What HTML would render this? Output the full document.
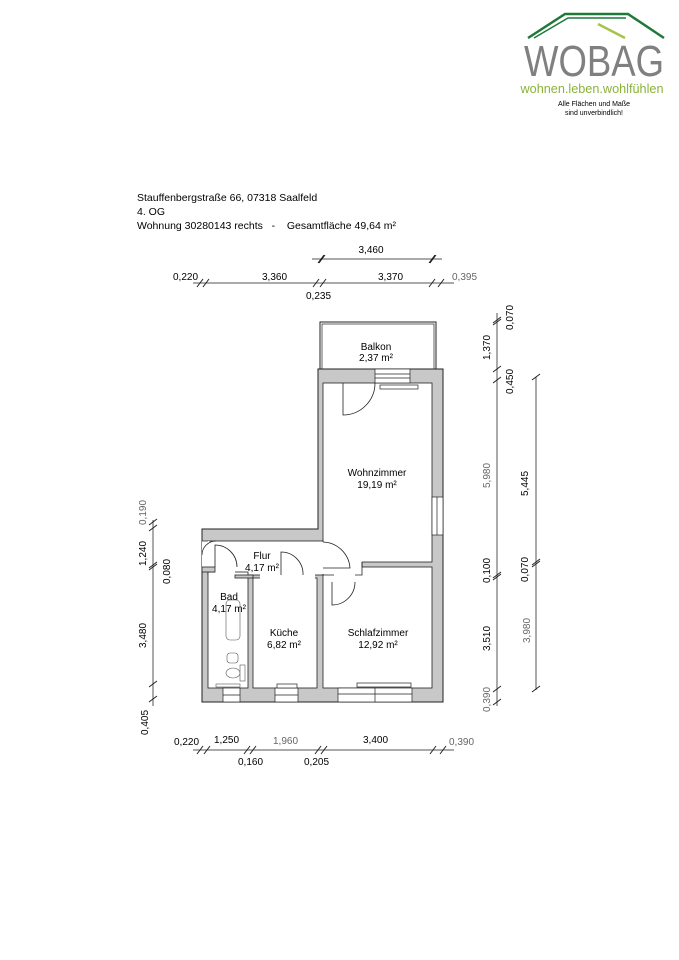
<!DOCTYPE html>
<html><head><meta charset="utf-8"><style>
html,body{margin:0;padding:0;background:#fff;}
svg{display:block;}
text{font-family:"Liberation Sans",sans-serif;white-space:pre;}
</style></head><body>
<svg width="679" height="960" viewBox="0 0 679 960" xmlns="http://www.w3.org/2000/svg">
<!-- Logo -->
<polyline points="528,38 565,14 628,14 664,38" fill="none" stroke="#1f7a3a" stroke-width="2.5"/>
<polyline points="534,38 568,18 626,18" fill="none" stroke="#1f7a3a" stroke-width="1.5"/>
<line x1="598" y1="24" x2="625" y2="38" stroke="#a6c44a" stroke-width="2.5"/>
<text x="594" y="76" font-size="44" fill="#808080" text-anchor="middle" textLength="140" lengthAdjust="spacingAndGlyphs">WOBAG</text>
<text x="592" y="93" font-size="13" fill="#8ab33a" text-anchor="middle" textLength="143" lengthAdjust="spacingAndGlyphs">wohnen.leben.wohlfühlen</text>
<text x="594" y="106" font-size="7" fill="#000" text-anchor="middle">Alle Flächen und Maße</text>
<text x="594" y="115" font-size="7" fill="#000" text-anchor="middle">sind unverbindlich!</text>

<!-- Header -->
<text x="137" y="201" font-size="10.5" fill="#000">Stauffenbergstraße 66, 07318 Saalfeld</text>
<text x="137" y="215" font-size="10.5" fill="#000">4. OG</text>
<text x="137" y="229" font-size="10.5" fill="#000">Wohnung 30280143 rechts&#160;&#160;&#160;-&#160;&#160;&#160;&#160;Gesamtfläche 49,64 m²</text>

<g stroke="#555" stroke-width="1" fill="none">
<line x1="312" y1="259" x2="442" y2="259"/>
<line x1="193" y1="283" x2="454" y2="283"/>
<line x1="153" y1="520" x2="153" y2="706"/>
<line x1="497" y1="313" x2="497" y2="706"/>
<line x1="536" y1="377" x2="536" y2="690"/>
<line x1="193" y1="750" x2="454" y2="750"/>
</g>
<g stroke="#222" stroke-width="1">
<path d="M318,263 L324,255 M319,263 L325,255 M429,263 L435,255 M430,263 L436,255"/>
<path d="M197,287 L203,279 M203,287 L209,279 M313,287 L319,279 M320,287 L326,279 M429,287 L435,279 M438,287 L444,279"/>
<path d="M149,525 L157,519 M149,531 L157,525 M149,568 L157,562 M149,570 L157,564 M149,687 L157,681 M149,702 L157,696"/>
<path d="M493,325 L501,319 M493,323 L501,317 M493,372 L501,366 M493,383 L501,377 M493,578 L501,572 M493,580 L501,574 M493,692 L501,686 M493,705 L501,699"/>
<path d="M532,380 L540,374 M532,565 L540,559 M532,567 L540,561 M532,692 L540,686"/>
<path d="M197,754 L203,746 M204,754 L210,746 M244,754 L250,746 M250,754 L256,746 M315,754 L321,746 M321,754 L327,746 M430,754 L436,746 M440,754 L446,746"/>
</g>
<g font-size="10" fill="#000">
<text x="371" y="253" text-anchor="middle">3,460</text>
<text x="173" y="280">0,220</text>
<text x="262" y="280">3,360</text>
<text x="378" y="280">3,370</text>
<text x="452" y="280" fill="#666">0,395</text>
<text x="306" y="299">0,235</text>
<text x="174" y="745">0,220</text>
<text x="214" y="743">1,250</text>
<text x="273" y="744" fill="#666">1,960</text>
<text x="363" y="743">3,400</text>
<text x="449" y="745" fill="#666">0,390</text>
<text x="238" y="765">0,160</text>
<text x="304" y="765">0,205</text>
<text transform="translate(146,525) rotate(-90)" fill="#666">0,190</text>
<text transform="translate(146,566) rotate(-90)">1,240</text>
<text transform="translate(170,584) rotate(-90)">0,080</text>
<text transform="translate(146,648) rotate(-90)">3,480</text>
<text transform="translate(148,735) rotate(-90)">0,405</text>
<text transform="translate(513,330) rotate(-90)">0,070</text>
<text transform="translate(490,360) rotate(-90)">1,370</text>
<text transform="translate(513,394) rotate(-90)">0,450</text>
<text transform="translate(490,488) rotate(-90)" fill="#666">5,980</text>
<text transform="translate(490,583) rotate(-90)">0,100</text>
<text transform="translate(490,651) rotate(-90)">3,510</text>
<text transform="translate(490,712) rotate(-90)" fill="#666">0,390</text>
<text transform="translate(528,496) rotate(-90)">5,445</text>
<text transform="translate(528,582) rotate(-90)">0,070</text>
<text transform="translate(530,643) rotate(-90)" fill="#666">3,980</text>
</g>

<!-- Balkon -->
<rect x="320" y="322" width="116" height="47" fill="#fff" stroke="#222" stroke-width="1"/>
<rect x="322" y="324" width="112" height="45" fill="none" stroke="#222" stroke-width="0.7"/>

<!-- Walls base -->
<path d="M318,369 L443,369 L443,702 L202,702 L202,529 L318,529 Z" fill="#c8c8c8" stroke="#222" stroke-width="1"/>
<g fill="#fff" stroke="#222" stroke-width="0.8">
<rect x="323" y="383" width="109" height="179"/>
<rect x="323" y="567" width="109" height="121"/>
<rect x="208" y="541" width="115" height="34"/>
<rect x="208" y="572" width="40" height="116"/>
<rect x="253" y="578" width="64" height="110"/>
</g>
<g fill="#fff" stroke="none">
<rect x="324" y="561" width="38" height="7"/>
<rect x="316" y="542" width="9" height="32"/>
<rect x="202" y="541" width="7" height="26"/>
<rect x="215" y="566" width="20" height="8"/>
<rect x="260" y="574" width="55" height="5"/>
<rect x="324" y="574" width="10" height="8"/>
<rect x="209" y="573" width="38" height="3"/>
</g>
<g fill="#c8c8c8" stroke="#222" stroke-width="0.8">
<rect x="202" y="567" width="13" height="5"/>
<rect x="235" y="575" width="18" height="3"/>
</g>
<path d="M362,562 L362,567 M202,541 L208,541 M323,575 L334,575" stroke="#222" stroke-width="0.8"/>
<path d="M362,562 L362,575 L355,575" fill="none" stroke="#222" stroke-width="0.8"/>

<!-- windows -->
<g fill="#fff" stroke="#222" stroke-width="0.7">
<rect x="375" y="369" width="35" height="14"/>
<line x1="375" y1="374" x2="410" y2="374"/><line x1="375" y1="378" x2="410" y2="378"/>
<rect x="432" y="497" width="11" height="38"/>
<line x1="437" y1="497" x2="437" y2="535"/>
<rect x="223" y="688" width="17" height="14"/><line x1="223" y1="695" x2="240" y2="695"/>
<rect x="275" y="688" width="23" height="14"/><line x1="275" y1="695" x2="298" y2="695"/>
<rect x="338" y="688" width="74" height="14"/><line x1="338" y1="694" x2="412" y2="694"/><line x1="375" y1="688" x2="375" y2="702"/>
<rect x="380" y="385" width="38" height="4"/>
<rect x="357" y="683" width="54" height="4"/>
<rect x="277" y="684" width="20" height="4"/>
</g>

<!-- doors -->
<g fill="none" stroke="#222" stroke-width="0.8">
<path d="M343,383 L343,415 A32,32 0 0 0 375,383"/>
<path d="M323,542 A28,28 0 0 1 350,568 L323,568"/>
<path d="M332,582 L332,605 A23,23 0 0 0 355,582"/>
<path d="M281,575 L281,552 A22,22 0 0 1 303,575"/>
<path d="M215,567 L215,545 A22,22 0 0 1 237,567"/>
<path d="M202,555 A14,14 0 0 1 216,541"/>
</g>

<!-- bath fixtures -->
<g fill="#fff" stroke="#555" stroke-width="0.6">
<rect x="226" y="600" width="14" height="40" rx="4"/>
<rect x="227" y="653" width="11" height="10" rx="3"/>
<ellipse cx="233" cy="673" rx="7" ry="5"/>
<rect x="240" y="665" width="5" height="16"/>
<rect x="216" y="684" width="24" height="3"/>
</g>

<!-- labels -->
<g font-size="10" fill="#000" text-anchor="middle">
<text x="376" y="350">Balkon</text>
<text x="376" y="361">2,37 m²</text>
<text x="377" y="476">Wohnzimmer</text>
<text x="377" y="488">19,19 m²</text>
<text x="262" y="559">Flur</text>
<text x="262" y="571">4,17 m²</text>
<text x="229" y="600">Bad</text>
<text x="229" y="612">4,17 m²</text>
<text x="284" y="636">Küche</text>
<text x="284" y="648">6,82 m²</text>
<text x="378" y="636">Schlafzimmer</text>
<text x="378" y="648">12,92 m²</text>
</g>
</svg>
</body></html>
